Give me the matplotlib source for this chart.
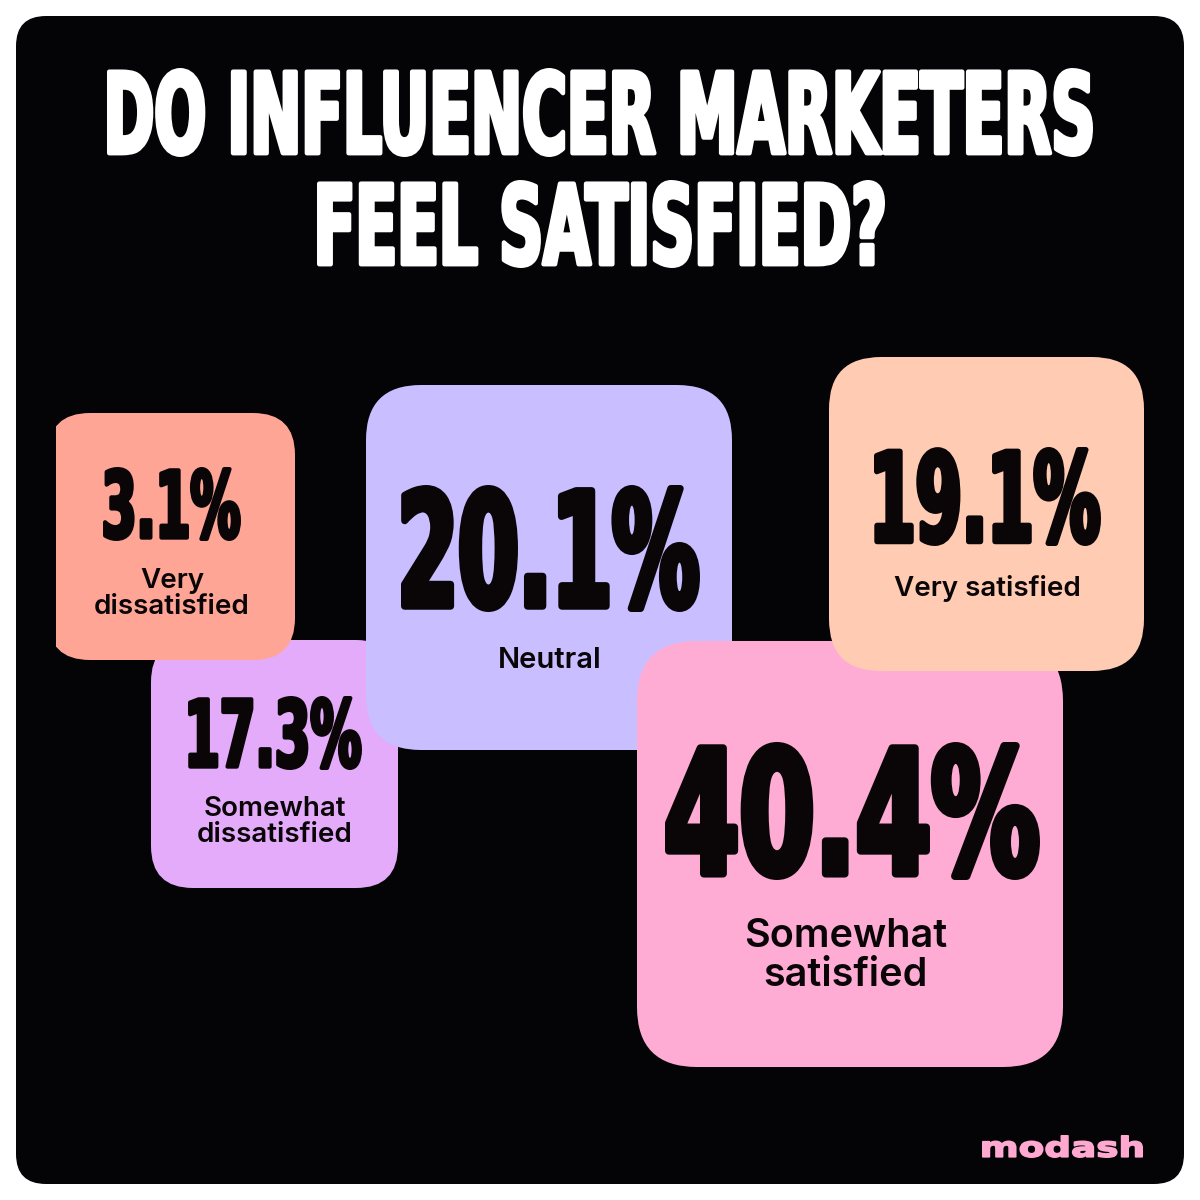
import matplotlib
matplotlib.use("Agg")
import matplotlib.pyplot as plt
from matplotlib.patches import FancyBboxPatch, PathPatch, Rectangle
from matplotlib.textpath import TextPath
from matplotlib.font_manager import FontProperties
from matplotlib.transforms import Affine2D

# --- data ---
categories = ["Very dissatisfied", "Somewhat dissatisfied", "Neutral",
              "Very satisfied", "Somewhat satisfied"]
shares = [3.1, 17.3, 20.1, 19.1, 40.4]
label_text = ["Very\ndissatisfied", "Somewhat\ndissatisfied", "Neutral",
              "Very satisfied", "Somewhat\nsatisfied"]
box_colors = ["#FFA596", "#E3ABF9", "#C9BEFF", "#FFCBB2", "#FFACD5"]

title_lines = ["DO INFLUENCER MARKETERS", "FEEL SATISFIED?"]
brand = "modash"

# --- layout (pixel units, y pointing down) ---
box_rects = [(48, 413, 247, 247), (151, 640, 247, 248), (366, 385, 366, 365),
             (829, 357, 315, 314), (637, 641, 426, 426)]
box_radius = [42, 42, 55, 52, 60]
box_z = [3, 2, 3, 5, 4]
num_rects = [(103, 241, 467, 541), (188, 362, 696, 770), (401, 700, 485, 612),
             (874, 1101, 447, 546), (665, 1040, 742, 880)]
label_xy = [(172, 594), (275, 822), (550, 661), (987, 588), (846, 956)]
label_size = [20, 20, 21, 20, 28.5]
label_gap = [1.0, 1.0, 1.0, 1.0, 1.05]
title_rects = [(107, 1093, 68, 157), (317, 885, 180, 268)]

fig = plt.figure(figsize=(12, 12), dpi=100)
ax = fig.add_axes([0, 0, 1, 1])
ax.set_xlim(0, 1200)
ax.set_ylim(1200, 0)
ax.axis("off")
fig.patch.set_facecolor("white")

bg = FancyBboxPatch((16, 16), 1168, 1168, boxstyle="round,pad=0,rounding_size=30",
                    fc="#040306", ec="none", zorder=0)
ax.add_patch(bg)

heavy = FontProperties(family="DejaVu Sans", weight="bold")


def draw_word(s, x0, x1, y0, y1, color, z, lw=0.0, prop=heavy):
    tp = TextPath((0, 0), s, size=100, prop=prop)
    ext = tp.get_extents()
    pad = lw * 100 / 72 / 2
    sx = (x1 - x0 - 2 * pad) / ext.width
    sy = (y1 - y0 - 2 * pad) / ext.height
    tr = Affine2D().translate(-ext.x0, -ext.y1).scale(sx, -sy).translate(x0 + pad, y0 + pad)
    ax.add_patch(PathPatch(tr.transform_path(tp), fc=color, ec=color, lw=lw,
                           joinstyle="round", zorder=z))


# title
for line, (x0, x1, y0, y1) in zip(title_lines, title_rects):
    draw_word(line, x0, x1, y0, y1, "white", 1, lw=3.2)

# boxes with values
for i, cat in enumerate(categories):
    x, y, w, h = box_rects[i]
    z = box_z[i]
    patch = FancyBboxPatch((x, y), w, h,
                           boxstyle=f"round,pad=0,rounding_size={box_radius[i]}",
                           fc=box_colors[i], ec="none", zorder=z)
    ax.add_patch(patch)
    if i == 0:
        # left side of the first card is cut off
        clip = Rectangle((56, 0), 1200, 1200, transform=ax.transData)
        patch.set_clip_path(clip)
    x0, x1, y0, y1 = num_rects[i]
    draw_word(f"{shares[i]:.1f}%", x0, x1, y0, y1, "#0a0608", z + 0.5,
              lw=(y1 - y0) * 0.04)
    lx, ly = label_xy[i]
    ax.text(lx, ly, label_text[i], ha="center", va="center", fontsize=label_size[i],
            family=["Inter", "DejaVu Sans"], fontweight="semibold", color="#0a0608",
            linespacing=label_gap[i], zorder=z + 0.5)

# brand mark
draw_word(brand, 982, 1143, 1135, 1158, "#FFA8D0", 1, lw=1.2)

fig.savefig("out.png", dpi=100, facecolor="white")
